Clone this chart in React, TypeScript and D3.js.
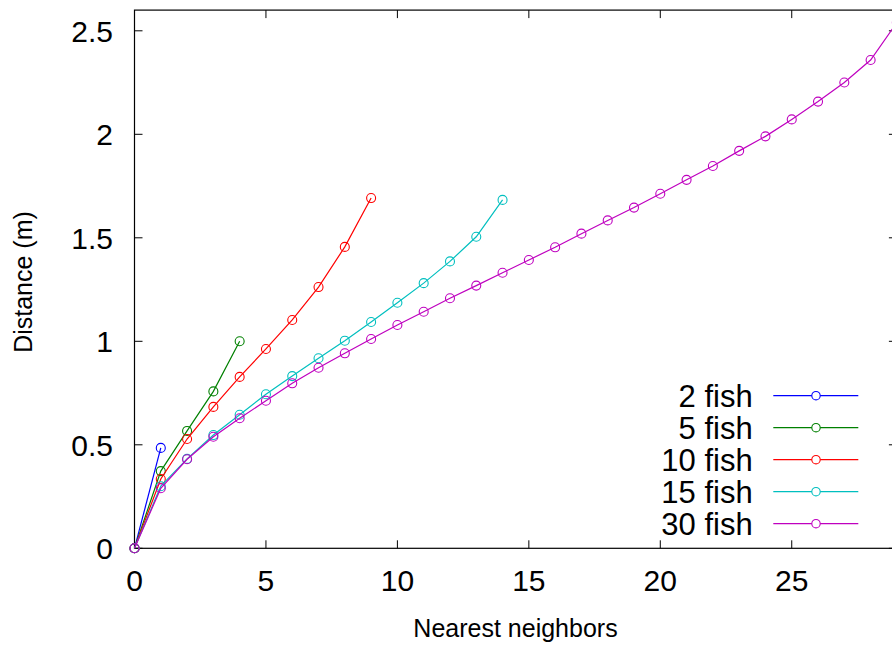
import React from "react";
import * as d3 from "d3";

const seriesNames = ["2 fish", "5 fish", "10 fish", "15 fish", "30 fish"];
const seriesColors = ["#0000ff", "#008000", "#ff0000", "#00bfbf", "#bf00bf"];

const fish2 = [0, 0.485];
const fish5 = [0, 0.373, 0.567, 0.758, 1.0];
const fish10 = [0, 0.335, 0.528, 0.683, 0.828, 0.963, 1.103, 1.262, 1.456, 1.692];
const fish15 = [0, 0.3, 0.432, 0.547, 0.645, 0.744, 0.832, 0.918, 1.003, 1.093, 1.186, 1.281, 1.386, 1.505, 1.683];
const fish30 = [0, 0.29, 0.43, 0.539, 0.628, 0.713, 0.797, 0.872, 0.942, 1.011, 1.079, 1.143, 1.208, 1.269, 1.331, 1.393, 1.454, 1.52, 1.584, 1.646, 1.713, 1.78, 1.847, 1.92, 1.99, 2.072, 2.158, 2.25, 2.359, 2.54];

const allSeries = [fish2, fish5, fish10, fish15, fish30];

const xTicks = [0, 5, 10, 15, 20, 25];
const yTicks = [0, 0.5, 1, 1.5, 2, 2.5];
const yTickLabels = ["0", "0.5", "1", "1.5", "2", "2.5"];

const W = 892;
const H = 645;
const M = { left: 134.5, top: 10.1, right: 896.9, bottom: 548.3 };
const FONT = "'Liberation Sans', Arial, Helvetica, sans-serif";

export default function App() {
  const x = d3.scaleLinear().domain([0, 29]).range([M.left, M.right]);
  const y = d3.scaleLinear().domain([0, 2.6]).range([M.bottom, M.top]);
  const line = d3
    .line<number>()
    .x((_, i) => x(i))
    .y((d) => y(d));
  const tickLen = 8;

  return (
    <svg
      width={W}
      height={H}
      style={{ position: "absolute", left: 0, top: 0, display: "block", background: "#fff" }}
      fontFamily={FONT}
    >
      <rect x={0} y={0} width={W} height={H} fill="#fff" />
      {/* ticks */}
      {xTicks.map((t) => (
        <g key={"xt" + t}>
          <line x1={x(t)} x2={x(t)} y1={M.bottom} y2={M.bottom - tickLen} stroke="#000" strokeWidth={1} />
          <line x1={x(t)} x2={x(t)} y1={M.top} y2={M.top + tickLen} stroke="#000" strokeWidth={1} />
          <text x={x(t)} y={591} fontSize={30} textAnchor="middle" fill="#000">
            {t}
          </text>
        </g>
      ))}
      {yTicks.map((t, i) => (
        <g key={"yt" + t}>
          <line x1={M.left} x2={M.left + tickLen} y1={y(t)} y2={y(t)} stroke="#000" strokeWidth={1} />
          <line x1={M.right} x2={M.right - tickLen} y1={y(t)} y2={y(t)} stroke="#000" strokeWidth={1} />
          <text x={113} y={y(t) + 10.7} fontSize={30} textAnchor="end" fill="#000">
            {yTickLabels[i]}
          </text>
        </g>
      ))}
      {/* frame */}
      <rect
        x={M.left}
        y={M.top}
        width={M.right - M.left}
        height={M.bottom - M.top}
        fill="none"
        stroke="#000"
        strokeWidth={1.2}
      />
      {/* series */}
      <g>
        {allSeries.map((s, si) => (
          <g key={"s" + si}>
            <path d={line(s) || ""} fill="none" stroke={seriesColors[si]} strokeWidth={1.2} />
            {s.map((v, i) => (
              <circle key={i} cx={x(i)} cy={y(v)} r={4.5} fill="none" stroke={seriesColors[si]} strokeWidth={1.1} />
            ))}
          </g>
        ))}
      </g>
      {/* legend */}
      {seriesNames.map((n, i) => {
        const cy = 395.7 + i * 32;
        return (
          <g key={"lg" + i}>
            <text x={752.7} y={cy + 11} fontSize={31} textAnchor="end" fill="#000">
              {n}
            </text>
            <line x1={773.3} x2={858.3} y1={cy} y2={cy} stroke={seriesColors[i]} strokeWidth={1.2} />
            <circle cx={816} cy={cy} r={4.2} fill="#fff" stroke={seriesColors[i]} strokeWidth={1.1} />
          </g>
        );
      })}
      {/* axis labels */}
      <text x={515.5} y={636.7} fontSize={25} textAnchor="middle" fill="#000">
        Nearest neighbors
      </text>
      <text
        transform="translate(31.7, 282) rotate(-90)"
        fontSize={25}
        textAnchor="middle"
        fill="#000"
      >
        Distance (m)
      </text>
    </svg>
  );
}
